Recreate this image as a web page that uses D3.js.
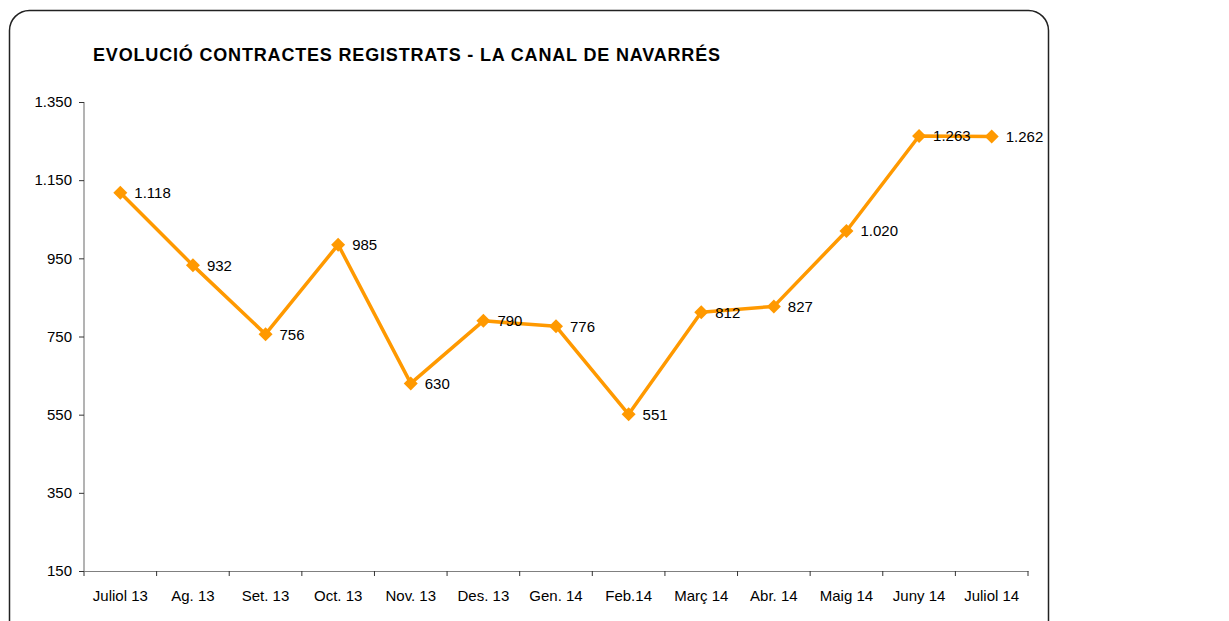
<!DOCTYPE html>
<html>
<head>
<meta charset="utf-8" />
<style>
html, body { margin: 0; padding: 0; background: #fff; }
svg { display: block; font-family: "Liberation Sans", Arial, sans-serif; }
</style>
</head>
<body>
<svg id="chart" width="1229" height="621"></svg>
<script src="https://d3js.org/d3.v7.min.js"></script>
<script>
// dades
var mesos = ["Juliol 13", "Ag. 13", "Set. 13", "Oct. 13", "Nov. 13", "Des. 13", "Gen. 14",
             "Feb.14", "Març 14", "Abr. 14", "Maig 14", "Juny 14", "Juliol 14"];
var contractes = [1118, 932, 756, 985, 630, 790, 776, 551, 812, 827, 1020, 1263, 1262];
var yTicks = [150, 350, 550, 750, 950, 1150, 1350];
var titol = "EVOLUCIÓ CONTRACTES REGISTRATS - LA CANAL DE NAVARRÉS";

var svg = d3.select("#chart");

// format amb punt de milers
var cat = d3.formatLocale({decimal: ",", thousands: ".", grouping: [3], currency: ["", ""]});
var fmt = cat.format(",d");

// marc arrodonit
svg.append("rect")
	.attr("x", 9.5).attr("y", 10.5)
	.attr("width", 1039).attr("height", 640)
	.attr("rx", 20).attr("ry", 20)
	.attr("fill", "none")
	.attr("stroke", "#222")
	.attr("stroke-width", 1.5);

svg.append("text")
	.attr("x", 93).attr("y", 61)
	.attr("font-size", 18)
	.attr("font-weight", "bold")
	.attr("fill", "#000")
	.attr("textLength", 627)
	.attr("lengthAdjust", "spacing")
	.text(titol);

var pLeft = 84, pRight = 1028, pTop = 102, pBottom = 571;

var x = d3.scaleBand().domain(mesos).range([pLeft, pRight]);
var y = d3.scaleLinear().domain([150, 1350]).range([pBottom, pTop]);

var xAxis = svg.append("g")
	.attr("transform", "translate(0," + pBottom + ")")
	.call(d3.axisBottom(x).tickSize(0).tickPadding(19));
xAxis.select(".domain").attr("stroke", "#808080").attr("stroke-width", 1.2);
xAxis.selectAll("text").attr("font-size", 15).attr("fill", "#000").attr("font-family", null);

// marques a les vores de cada banda
xAxis.selectAll(".sep")
	.data(mesos.concat(["_end"]))
	.enter().append("line")
	.attr("x1", function(d, i) { return pLeft + i * x.step(); })
	.attr("x2", function(d, i) { return pLeft + i * x.step(); })
	.attr("y1", 0).attr("y2", 5)
	.attr("stroke", "#333");

var yAxis = svg.append("g")
	.attr("transform", "translate(" + pLeft + ",0)")
	.call(d3.axisLeft(y).tickValues(yTicks).tickFormat(fmt).tickSize(5).tickPadding(7));
yAxis.select(".domain").attr("stroke", "#808080").attr("stroke-width", 1.2).attr("d", "M0," + pTop + "V" + pBottom);
yAxis.selectAll(".tick line").attr("stroke", "#333");
yAxis.selectAll("text").attr("font-size", 15).attr("fill", "#000").attr("font-family", null);

var cx = function(d, i) { return x(mesos[i]) + x.bandwidth() / 2; };

var line = d3.line()
	.x(function(d, i) { return cx(d, i); })
	.y(function(d) { return y(d); });

svg.append("path")
	.datum(contractes)
	.attr("d", line)
	.attr("fill", "none")
	.attr("stroke", "#FF9900")
	.attr("stroke-width", 3.5)
	.attr("stroke-linejoin", "round");

svg.selectAll(".punt")
	.data(contractes)
	.enter().append("path")
	.attr("class", "punt")
	.attr("d", "M0,-7L7,0L0,7L-7,0Z")
	.attr("fill", "#FF9900")
	.attr("transform", function(d, i) { return "translate(" + cx(d, i) + "," + y(d) + ")"; });

svg.selectAll(".etiqueta")
	.data(contractes)
	.enter().append("text")
	.attr("class", "etiqueta")
	.attr("x", function(d, i) { return cx(d, i) + 14; })
	.attr("y", function(d) { return y(d); })
	.attr("dy", "0.36em")
	.attr("font-size", 15)
	.attr("fill", "#000")
	.text(function(d) { return fmt(d); });
</script>
</body>
</html>
